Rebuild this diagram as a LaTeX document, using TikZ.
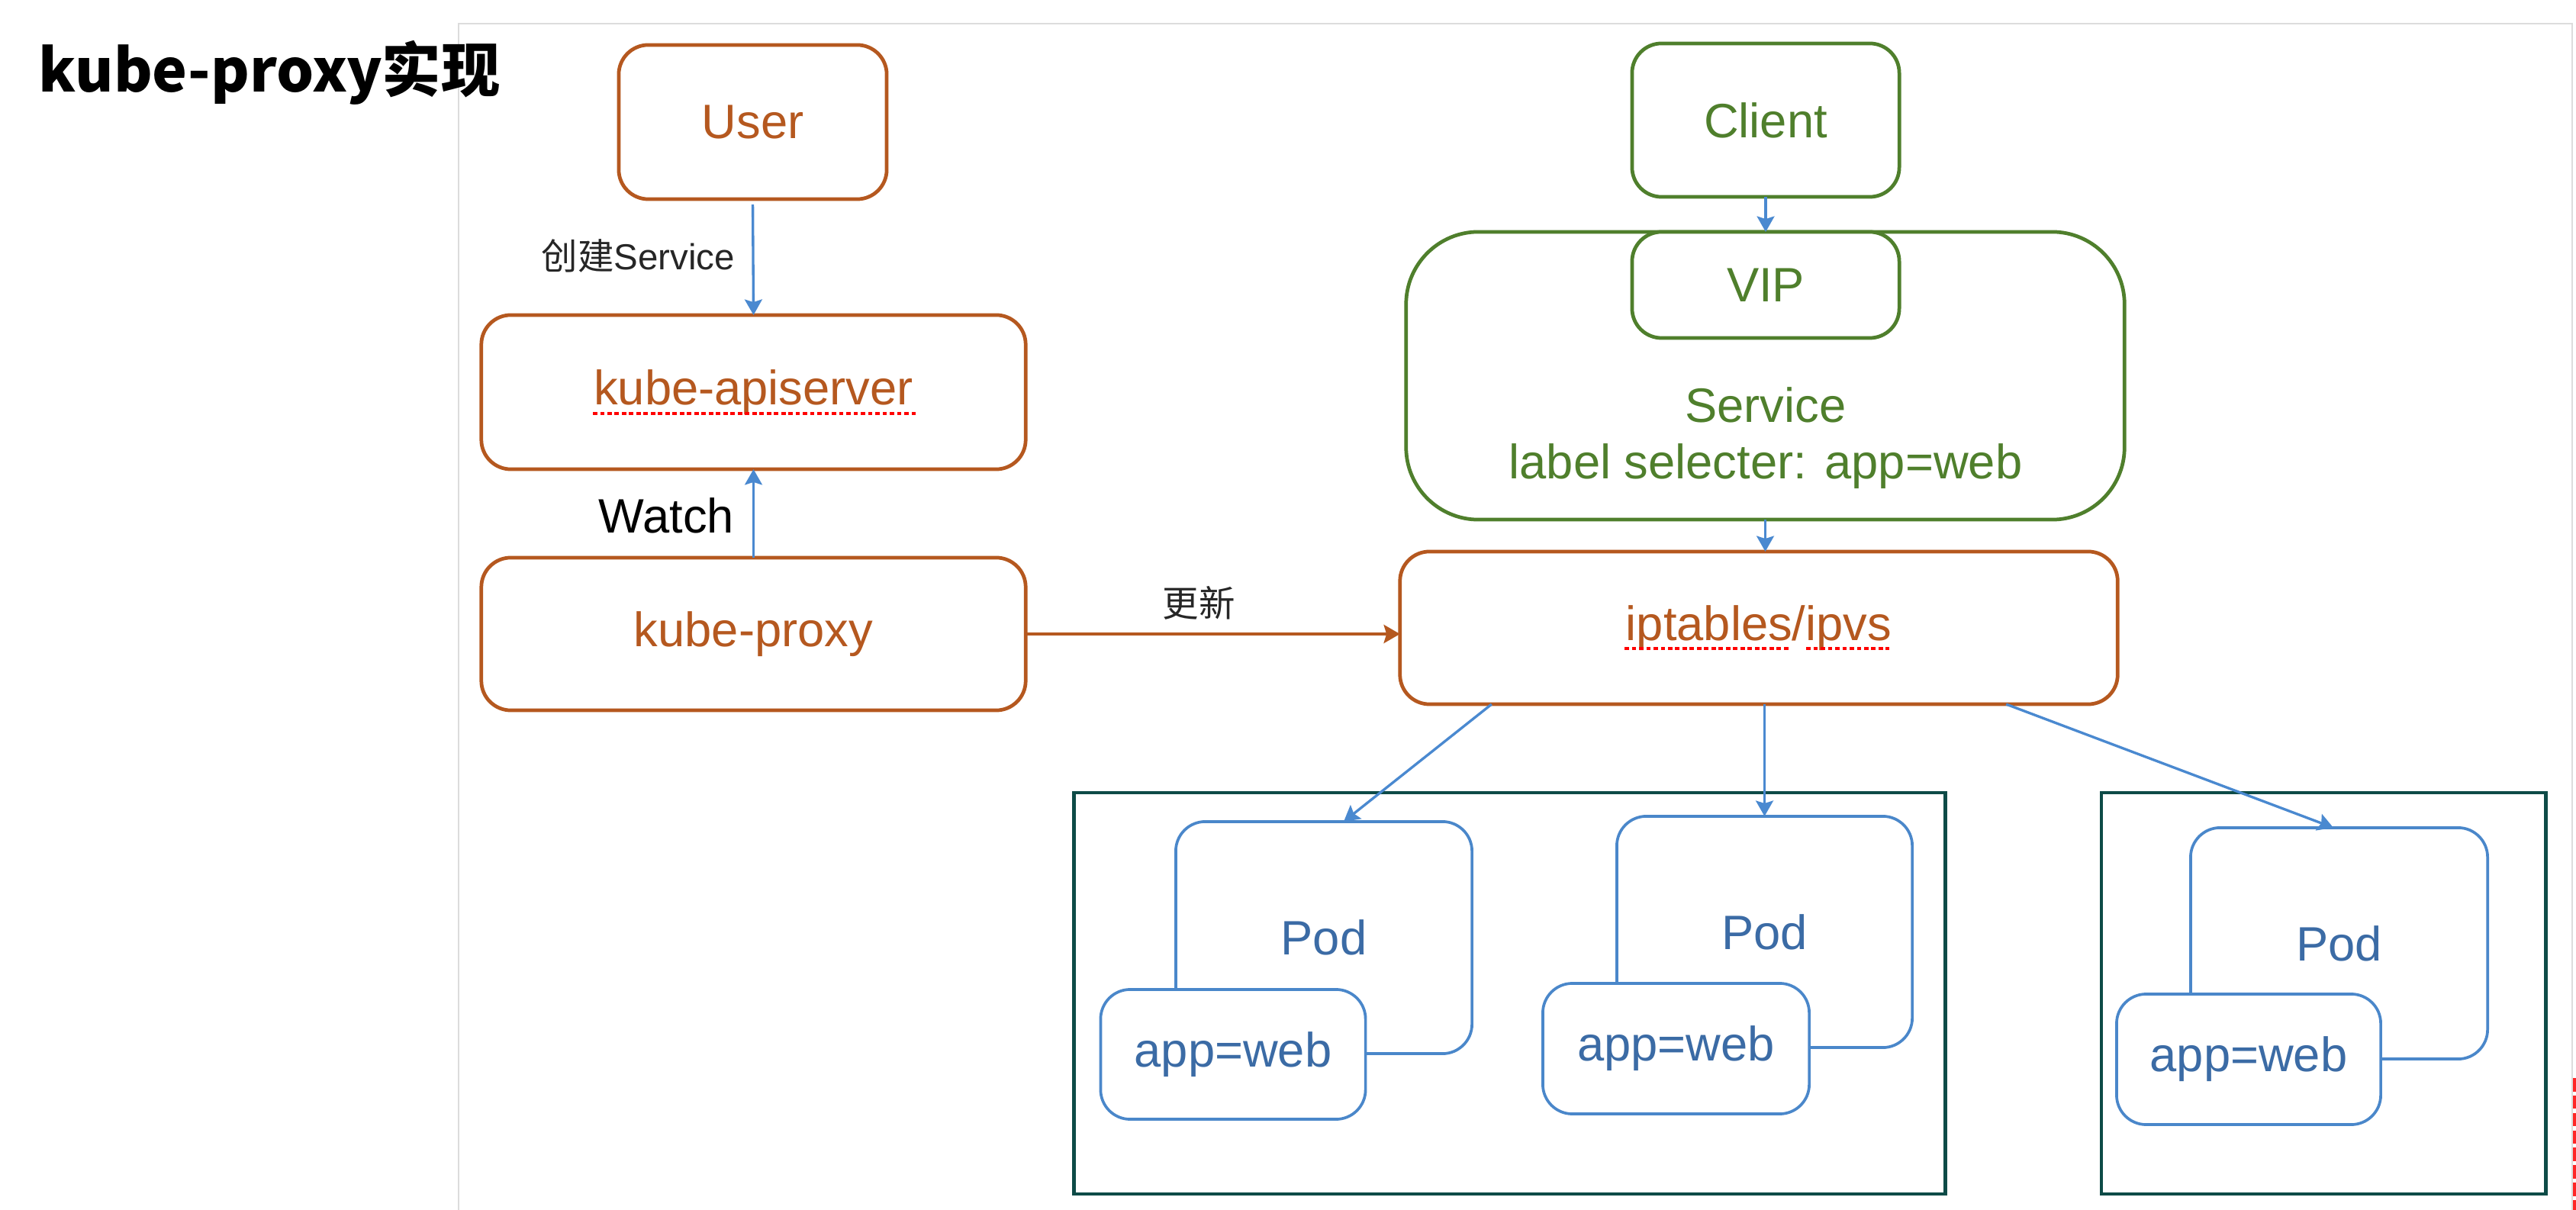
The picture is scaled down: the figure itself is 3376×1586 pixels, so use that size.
\documentclass[tikz,border=0pt]{standalone}
\usepackage{fontspec}
\setmainfont{Liberation Sans}
\newfontfamily\cjk{Noto Sans CJK SC}
\usetikzlibrary{arrows.meta}
\definecolor{ored}{HTML}{B5581F}
\definecolor{grn}{HTML}{4F7F2C}
\definecolor{blu}{HTML}{4A89D0}
\definecolor{podblue}{HTML}{4A87CA}
\definecolor{podtext}{HTML}{3B6BA5}
\definecolor{dteal}{HTML}{0E4B47}
\definecolor{panel}{HTML}{DCDCDC}
\begin{document}
\begin{tikzpicture}[x=0.01cm,y=-0.01cm,
  every node/.style={inner sep=0pt,outer sep=0pt},
  box/.style={draw,fill=white,line width=1.35pt,align=center,font=\fontsize{18}{21.5}\selectfont},
  obox/.style={box,draw=ored,text=ored,rounded corners=11pt},
  gbox/.style={box,draw=grn,text=grn,rounded corners=11pt},
  podbox/.style={box,draw=podblue,text=podtext,rounded corners=11pt,line width=1.05pt},
  cont/.style={draw=dteal,line width=1.3pt,fill=white},
  barrow/.style={draw=blu,line width=0.95pt,-{Stealth[length=5.8pt,width=6.5pt,inset=1pt]}},
  oarrow/.style={draw=ored,line width=1.35pt,-{Stealth[length=6pt,width=6.8pt,inset=1pt]}},
  small/.style={font=\fontsize{13.5}{16}\selectfont,text=black!85},
  spell/.style={draw=red,line width=1.3pt,dash pattern=on 1.6pt off 1.1pt}]
\useasboundingbox (0,0) rectangle (3376,1586);
\fill[white] (0,0) rectangle (3376,1586);
% panel frame
\draw[panel,line width=0.4pt] (601,1586) -- (601,31) -- (3371,31) -- (3371,1586);
% stray red fragment at the right edge
\draw[red!85,line width=1.4pt,dash pattern=on 5pt off 1.5pt] (3374,1413) -- (3374,1586);
% title
\node[anchor=base west,font=\cjk\bfseries\fontsize{22}{27}\selectfont] (title) at (51,121) {kube-proxy实现};
% left column
\node[obox,minimum width=3.51cm,minimum height=2.02cm] (user) at (986.5,160) {User};
\node[obox,minimum width=7.13cm,minimum height=2.02cm] (api) at (987.5,514) {kube-apiserver};
\node[obox,minimum width=7.13cm,minimum height=2.0cm] (proxy) at (987.5,831) {kube-proxy};
\draw[spell] (777,542) -- (1201,542);
\draw[barrow,shorten <=2pt] (user.south) -- (api.north);
\node[small,anchor=east] (lcreate) at (963,335) {{\cjk 创建}Service};
\draw[barrow] (proxy.north) -- (api.south);
\node[anchor=east,font=\fontsize{18}{21.5}\selectfont] (lwatch) at (962,676) {Watch};
% right column
\node[gbox,minimum width=3.50cm,minimum height=2.01cm] (client) at (2314,157.5) {Client};
\node[gbox,rounded corners=27pt,minimum width=9.41cm,minimum height=3.77cm] (svc) at (2313.5,492.5) {};
\node[gbox,minimum width=3.50cm,minimum height=1.39cm] (vip) at (2314,373.5) {VIP};
\node[anchor=base,text=grn,font=\fontsize{18}{21.5}\selectfont] (svc1) at (2314,553.5) {Service};
\node[anchor=base,text=grn,font=\fontsize{18}{21.5}\selectfont] (svc2) at (2314,628) {label selecter: app=web};
\draw[barrow] (client.south) -- (vip.north);
\node[obox,minimum width=9.40cm,minimum height=2.0cm] (ipt) at (2305,823) {iptables/ipvs};
\draw[spell] (2129,850) -- (2346,850);
\draw[spell] (2367,850) -- (2476,850);
\draw[barrow] (svc.south) -- (svc.south |- ipt.north);
\draw[oarrow] (proxy.east) -- (proxy.east -| ipt.west);
\node[small,anchor=center] (lupd) at (1571,790) {\cjk 更新};
% containers
\node[cont,minimum width=11.41cm,minimum height=5.26cm] (c1) at (1978.5,1302) {};
\node[cont,minimum width=5.82cm,minimum height=5.26cm] (c2) at (3045,1302) {};
% pods
\node[podbox,minimum width=3.88cm,minimum height=3.04cm] (pod1) at (1735,1229) {Pod};
\node[podbox,minimum width=3.47cm,minimum height=1.70cm] (app1) at (1616,1382) {app=web};
\node[podbox,minimum width=3.87cm,minimum height=3.03cm] (pod2) at (2312.5,1221.5) {Pod};
\node[podbox,minimum width=3.49cm,minimum height=1.71cm] (app2) at (2196.5,1374.5) {app=web};
\node[podbox,minimum width=3.89cm,minimum height=3.03cm] (pod3) at (3065.5,1236.5) {Pod};
\node[podbox,minimum width=3.46cm,minimum height=1.71cm] (app3) at (2947,1388.5) {app=web};
% distribution arrows
\draw[barrow] ([xshift=-3.5cm]ipt.south) -- ([xshift=0.26cm]pod1.north);
\draw[barrow] (ipt.south -| pod2.north) -- (pod2.north);
\draw[barrow] ([xshift=3.24cm]ipt.south) -- ([xshift=-0.075cm]pod3.north);
\end{tikzpicture}
\end{document}
